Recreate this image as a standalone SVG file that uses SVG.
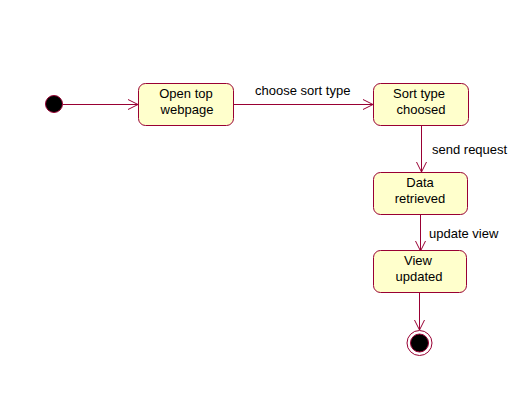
<svg xmlns="http://www.w3.org/2000/svg" width="516" height="418" viewBox="0 0 516 418">
<style>
.st{fill:#ffffcc;stroke:#990033;stroke-width:1}
.t{font-family:"Liberation Sans",Arial,sans-serif;font-size:13px;fill:#000;text-anchor:middle}
.l{font-family:"Liberation Sans",Arial,sans-serif;font-size:13px;fill:#000}
.c{stroke:#990033;stroke-width:1;fill:none}
</style>
<defs>
<marker id="a" markerWidth="12" markerHeight="12" refX="11" refY="6" orient="auto" markerUnits="userSpaceOnUse">
<path d="M1,1 L11,6 L1,11" fill="none" stroke="#990033" stroke-width="1"/>
</marker>
</defs>
<rect width="516" height="418" fill="#fff"/>
<g id="connectors">
<line class="c" x1="63" y1="104.5" x2="138" y2="104.5" marker-end="url(#a)"/>
<line class="c" x1="234" y1="104.5" x2="373" y2="104.5" marker-end="url(#a)"/>
<text class="l" x="255" y="95">choose sort type</text>
<line class="c" x1="421.5" y1="125" x2="421.5" y2="172" marker-end="url(#a)"/>
<text class="l" x="432" y="154">send request</text>
<line class="c" x1="420.5" y1="214" x2="420.5" y2="251" marker-end="url(#a)"/>
<text class="l" x="429" y="238">update view</text>
<line class="c" x1="419.5" y1="292" x2="419.5" y2="330" marker-end="url(#a)"/>
</g>
<g id="start">
<circle cx="54" cy="104" r="8.5" fill="#000" stroke="#990033" stroke-width="1"/>
</g>
<g id="open">
<rect class="st" x="138.5" y="83.5" width="95" height="42" rx="7"/>
<text class="t" x="186" y="98">Open top</text>
<text class="t" x="187" y="114">webpage</text>
</g>
<g id="sort">
<rect class="st" x="373.5" y="83.5" width="95" height="42" rx="7"/>
<text class="t" x="419" y="98">Sort type</text>
<text class="t" x="421" y="114">choosed</text>
</g>
<g id="data">
<rect class="st" x="373.5" y="172.5" width="94" height="42" rx="7"/>
<text class="t" x="420" y="187">Data</text>
<text class="t" x="420" y="203">retrieved</text>
</g>
<g id="view">
<rect class="st" x="373.5" y="250.5" width="93" height="42" rx="7"/>
<text class="t" x="418" y="265">View</text>
<text class="t" x="419" y="281">updated</text>
</g>
<g id="end">
<circle cx="419.5" cy="343" r="12.5" fill="#fff" stroke="#990033" stroke-width="1"/>
<circle cx="419.5" cy="343" r="9" fill="#000" stroke="#990033" stroke-width="1"/>
</g>
</svg>
